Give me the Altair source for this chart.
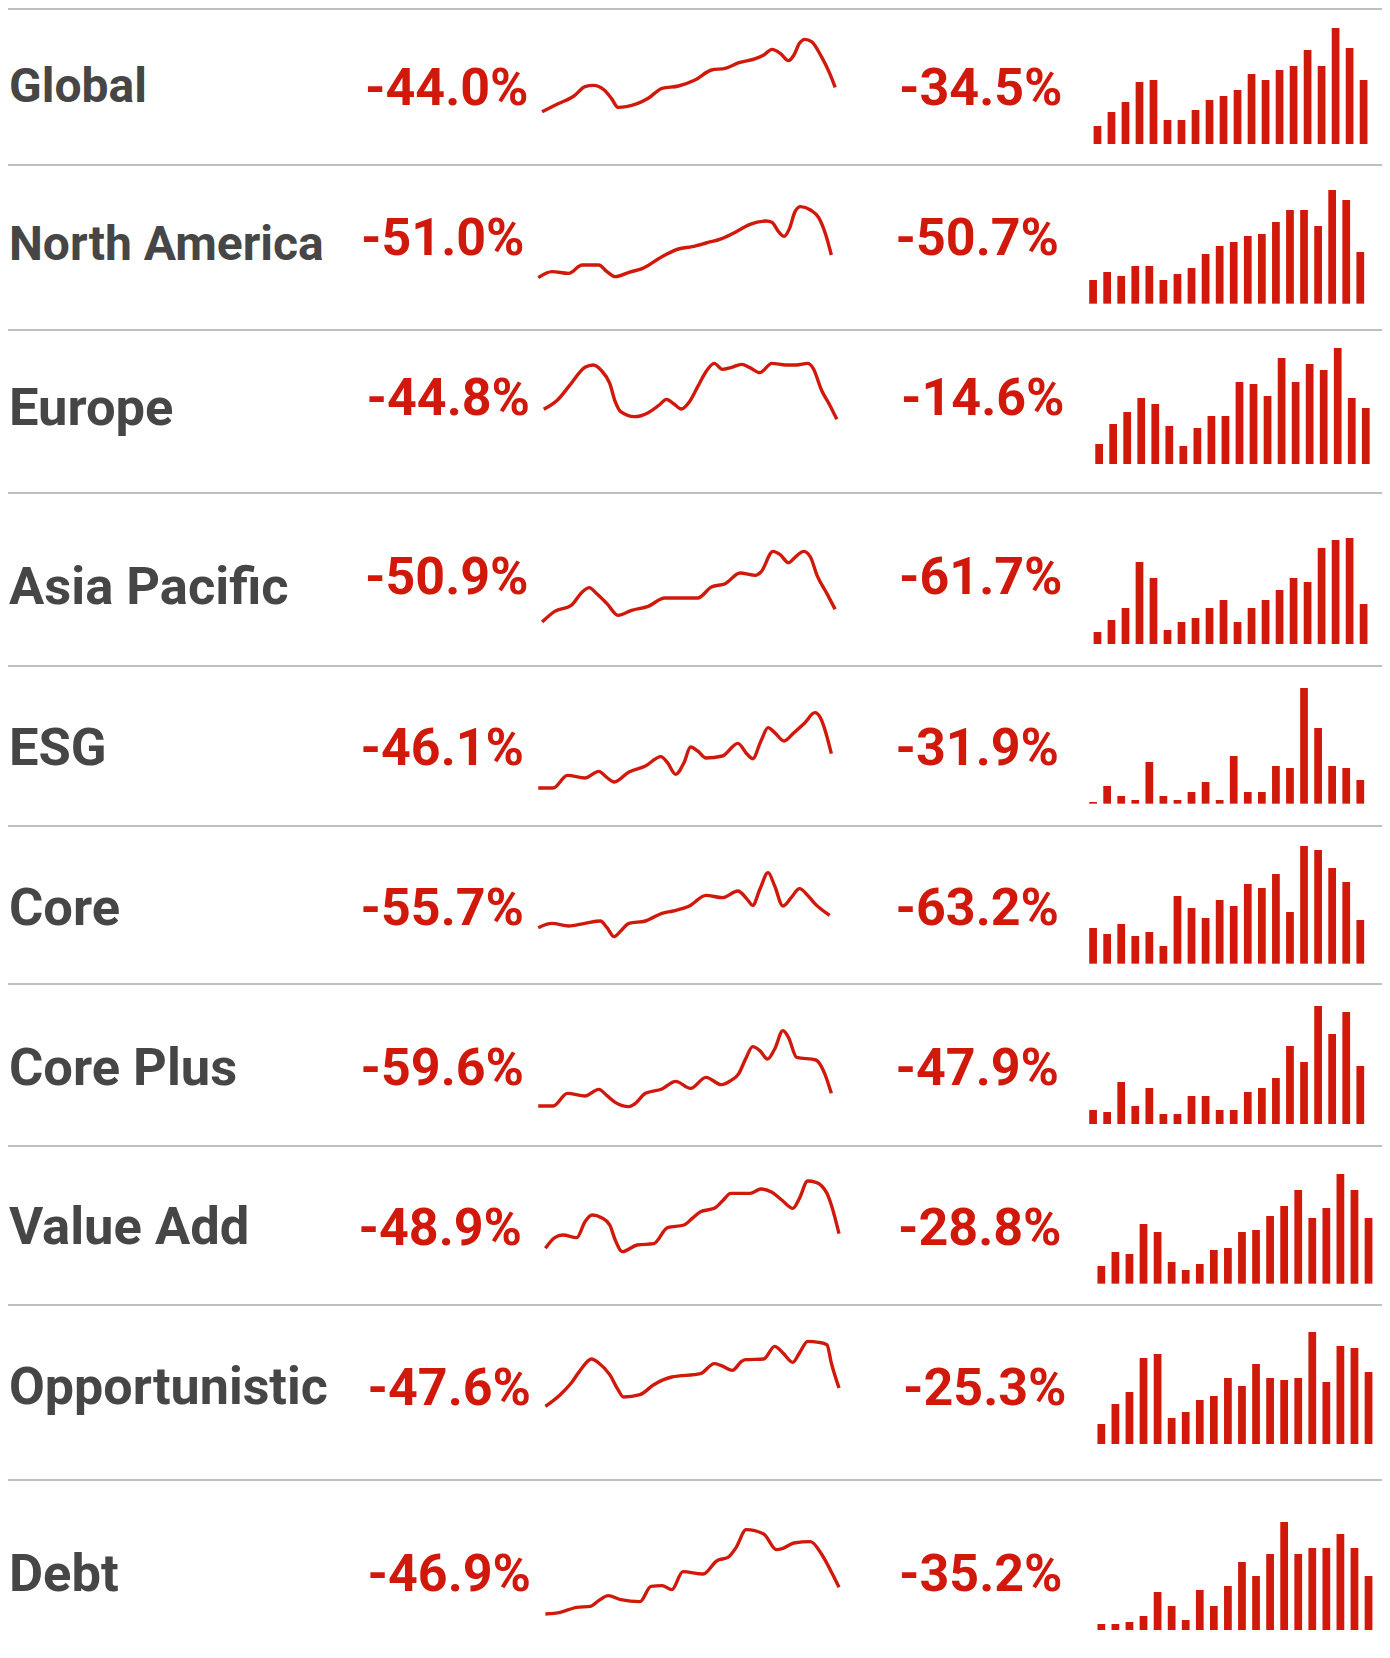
import altair as alt
import pandas as pd

# ---------------- data ----------------
NAMES = ["Global", "North America", "Europe", "Asia Pacific", "ESG", "Core",
         "Core Plus", "Value Add", "Opportunistic", "Debt"]
PCT_A = ["-44.0%", "-51.0%", "-44.8%", "-50.9%", "-46.1%", "-55.7%",
         "-59.6%", "-48.9%", "-47.6%", "-46.9%"]
PCT_B = ["-34.5%", "-50.7%", "-14.6%", "-61.7%", "-31.9%", "-63.2%",
         "-47.9%", "-28.8%", "-25.3%", "-35.2%"]

# sparkline points: (time position, level)
LINE_T = {
    "Global": [22, 50, 80, 100, 115, 135, 148, 160, 175, 215, 240, 270, 300, 330, 355, 380, 410, 425, 440, 455, 470, 480, 490, 500, 512, 530, 545, 555],
    "North America": [15, 40, 70, 95, 125, 140, 155, 180, 205, 240, 270, 295, 320, 350, 375, 400, 430, 440, 452, 462, 472, 482, 492, 510, 525, 538, 548],
    "Europe": [25, 50, 75, 100, 115, 130, 145, 155, 165, 190, 215, 235, 248, 262, 275, 290, 305, 320, 335, 350, 365, 385, 400, 418, 440, 465, 485, 505, 515, 530, 545, 558],
    "Asia Pacific": [22, 45, 75, 95, 108, 120, 140, 160, 185, 215, 245, 305, 330, 355, 382, 410, 420, 442, 455, 470, 482, 498, 510, 522, 540, 555],
    "ESG": [15, 42, 68, 100, 125, 140, 153, 180, 210, 238, 250, 265, 280, 292, 305, 320, 350, 378, 395, 405, 420, 433, 445, 462, 480, 500, 518, 528, 538, 548],
    "Core": [15, 40, 70, 100, 128, 140, 153, 165, 180, 210, 240, 260, 290, 320, 350, 378, 395, 405, 418, 433, 445, 460, 475, 490, 505, 518, 545],
    "Core Plus": [15, 42, 68, 100, 125, 140, 155, 180, 190, 210, 240, 265, 292, 320, 348, 365, 380, 392, 405, 418, 432, 445, 460, 470, 485, 520, 535, 548],
    "Value Add": [28, 45, 60, 85, 100, 113, 130, 145, 155, 168, 195, 225, 250, 280, 295, 310, 335, 350, 365, 400, 420, 440, 458, 478, 490, 505, 520, 540, 548, 562],
    "Opportunistic": [28, 55, 75, 90, 112, 125, 145, 160, 170, 200, 225, 258, 310, 335, 348, 368, 385, 392, 425, 445, 460, 478, 490, 505, 525, 540, 548, 562],
    "Debt": [28, 55, 85, 110, 125, 142, 165, 200, 220, 240, 258, 278, 315, 340, 360, 375, 393, 425, 448, 460, 480, 510, 530, 550, 562],
}
LINE_V = {
    "Global": [265, 288, 312, 340, 344, 330, 305, 278, 280, 305, 335, 342, 360, 390, 395, 412, 424, 435, 452, 440, 418, 435, 470, 482, 475, 430, 380, 338],
    "North America": [262, 280, 275, 300, 300, 280, 265, 278, 290, 325, 348, 355, 366, 380, 400, 422, 432, 428, 400, 386, 410, 460, 475, 465, 442, 390, 330],
    "Europe": [362, 390, 440, 488, 495, 478, 440, 385, 355, 340, 352, 375, 392, 378, 363, 385, 430, 475, 500, 482, 487, 497, 487, 472, 500, 495, 495, 500, 485, 420, 375, 332],
    "Asia Pacific": [210, 242, 260, 300, 313, 297, 265, 230, 245, 257, 282, 282, 315, 325, 357, 350, 360, 422, 412, 388, 404, 422, 405, 350, 295, 248],
    "ESG": [234, 234, 272, 264, 284, 265, 252, 282, 300, 328, 310, 275, 310, 357, 345, 324, 330, 368, 335, 322, 375, 415, 400, 375, 400, 430, 460, 445, 400, 337],
    "Core": [295, 308, 300, 308, 315, 295, 268, 285, 308, 315, 338, 345, 360, 392, 385, 405, 380, 362, 410, 460, 420, 360, 385, 412, 392, 367, 332],
    "Core Plus": [234, 234, 272, 264, 284, 265, 245, 232, 240, 272, 285, 308, 287, 320, 298, 310, 332, 375, 412, 400, 375, 405, 460, 440, 380, 372, 335, 272],
    "Value Add": [290, 322, 330, 322, 370, 390, 382, 360, 315, 280, 300, 304, 352, 360, 380, 400, 410, 432, 455, 455, 468, 458, 435, 410, 440, 492, 488, 455, 420, 334],
    "Opportunistic": [290, 325, 360, 395, 432, 420, 385, 340, 318, 325, 355, 378, 388, 418, 412, 398, 425, 430, 432, 470, 450, 422, 450, 485, 482, 475, 420, 345],
    "Debt": [195, 200, 215, 218, 235, 250, 238, 232, 278, 280, 268, 322, 315, 355, 365, 395, 448, 435, 388, 392, 408, 412, 375, 315, 275],
}

# column chart heights (20 periods)
BARS = {
    "Global": [54, 96, 126, 186, 192, 72, 72, 102, 132, 144, 162, 210, 192, 222, 234, 282, 234, 348, 288, 192],
    "North America": [71, 95, 83, 113, 113, 71, 89, 107, 149, 173, 185, 203, 209, 245, 281, 281, 233, 341, 311, 155],
    "Europe": [60, 120, 156, 198, 180, 114, 54, 108, 144, 144, 246, 240, 204, 318, 246, 300, 282, 348, 198, 168],
    "Asia Pacific": [36, 72, 108, 246, 198, 42, 66, 78, 108, 132, 66, 108, 132, 162, 198, 186, 288, 312, 318, 120],
    "ESG": [5, 53, 23, 11, 125, 23, 11, 35, 65, 11, 143, 35, 35, 113, 107, 347, 227, 113, 107, 71],
    "Core": [107, 89, 119, 83, 95, 53, 203, 167, 137, 191, 173, 239, 227, 269, 155, 353, 341, 287, 245, 131],
    "Core Plus": [42, 36, 126, 54, 108, 30, 30, 84, 84, 42, 42, 96, 108, 138, 234, 186, 354, 270, 336, 174],
    "Value Add": [53, 95, 89, 179, 155, 65, 41, 59, 101, 107, 155, 161, 203, 233, 281, 197, 227, 329, 281, 197],
    "Opportunistic": [60, 120, 156, 258, 270, 78, 96, 132, 144, 198, 174, 240, 198, 192, 198, 336, 186, 294, 288, 216],
    "Debt": [18, 18, 24, 42, 114, 72, 30, 120, 72, 132, 204, 162, 228, 324, 228, 246, 246, 288, 246, 162],
}

# ---------------- layout (page pixels) ----------------
OX, OY = 8, 8
ROW_TOP = [0, 165, 330, 492, 666, 826, 984, 1145, 1303, 1479]
BAR_BASE = [432, 416, 402, 456, 413, 413, 420, 416, 423, 453]
BAR_SPAN = [(1025, 1523), (1017, 1517), (1028, 1527), (1025, 1523), (1017, 1517),
            (1017, 1517), (1017, 1517), (1032, 1532), (1032, 1532), (1032, 1532)]
LABEL_SIZE = [48, 48, 52.5, 52.5, 52.5, 52.5, 52.5, 52.5, 52, 52.5]
LABEL_BASE = [101.5, 259.5, 425, 603.5, 765, 925, 1084.5, 1244, 1404, 1591]
PCT_BASE = [105, 255, 415, 594, 765, 925, 1085, 1245, 1405, 1591]
PCT_A_RIGHT = [528.5, 524.5, 530, 528.5, 524, 524, 524, 522, 531, 531]
PCT_B_RIGHT = [1062.5, 1059, 1064.5, 1062.5, 1059, 1059, 1059, 1061.5, 1066.5, 1062.5]
SEPARATORS = [9, 165, 330, 493, 666, 826, 984, 1146, 1305, 1480]

RED = "#d0190b"
GRAY = "#464646"
FONT = "Roboto"
W, H = 1374, 1628


def px_x(z):
    return 530 - OX + z * 860 / 1564


layers = []
for y in SEPARATORS:
    layers.append(
        alt.Chart(pd.DataFrame({"k": [0]})).mark_rule(color="#bfbfbf", strokeWidth=2).encode(
            x=alt.value(-2), x2=alt.value(W), y=alt.value(y - OY))
    )

for i, name in enumerate(NAMES):
    top = ROW_TOP[i] - OY

    ldf = pd.DataFrame({"t": LINE_T[name], "v": LINE_V[name]})
    layers.append(
        alt.Chart(ldf).mark_line(color=RED, strokeWidth=3.4, interpolate="monotone").encode(
            x=alt.X("t:Q", scale=alt.Scale(domain=[0, 1564], range=[px_x(0), px_x(1564)],
                                           nice=False, zero=False), axis=None),
            y=alt.Y("v:Q", scale=alt.Scale(domain=[0, 600], range=[top + 200, top],
                                           nice=False, zero=False), axis=None),
        )
    )

    base = 600 - BAR_BASE[i]
    bdf = pd.DataFrame({"period": list(range(20)), "h": BARS[name]})
    bdf["y0"] = base
    bdf["y1"] = base + bdf["h"]
    x0, x1 = BAR_SPAN[i]
    layers.append(
        alt.Chart(bdf).mark_bar(color=RED).encode(
            x=alt.X("period:O", scale=alt.Scale(range=[px_x(x0), px_x(x1)],
                                                paddingInner=0.45, paddingOuter=0), axis=None),
            y=alt.Y("y1:Q", scale=alt.Scale(domain=[0, 600], range=[top + 200, top],
                                            nice=False, zero=False), axis=None),
            y2="y0:Q",
        )
    )

    tdf = pd.DataFrame({"label": [name], "a": [PCT_A[i]], "b": [PCT_B[i]]})
    layers.append(
        alt.Chart(tdf).mark_text(font=FONT, fontWeight="bold", fontSize=LABEL_SIZE[i], color=GRAY,
                                 align="left", baseline="alphabetic").encode(
            text="label:N", x=alt.value(1), y=alt.value(LABEL_BASE[i] - OY))
    )
    layers.append(
        alt.Chart(tdf).mark_text(font=FONT, fontWeight="bold", fontSize=52, color=RED,
                                 align="right", baseline="alphabetic").encode(
            text="a:N", x=alt.value(PCT_A_RIGHT[i] - OX), y=alt.value(PCT_BASE[i] - OY))
    )
    layers.append(
        alt.Chart(tdf).mark_text(font=FONT, fontWeight="bold", fontSize=52, color=RED,
                                 align="right", baseline="alphabetic").encode(
            text="b:N", x=alt.value(PCT_B_RIGHT[i] - OX), y=alt.value(PCT_BASE[i] - OY))
    )

chart = alt.layer(*layers).resolve_scale(x="independent", y="independent").properties(
    width=W, height=H, padding=0, autosize=alt.AutoSizeParams(type="none"),
    background="white",
).configure_view(stroke=None)

chart.save("out.html", embed_options={"renderer": "svg", "actions": False})
